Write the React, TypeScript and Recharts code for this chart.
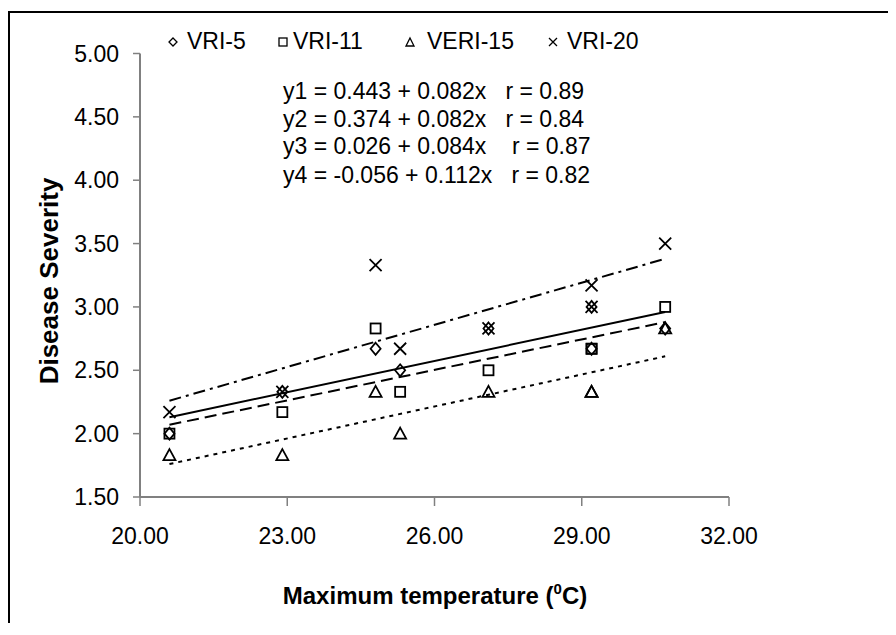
import { ScatterChart, Scatter, XAxis, YAxis, Legend, Customized } from "recharts";

const FONT = "'Liberation Sans', Arial, sans-serif";

// observations (max temperature, disease severity per variety)
const seriesNames = ["VRI-5", "VRI-11", "VERI-15", "VRI-20"];
const maxTemp = [20.6, 22.9, 24.8, 25.3, 27.1, 29.2, 29.2, 30.7];
const vri5 = [2.0, 2.33, 2.67, 2.5, 2.83, 3.0, 2.67, 2.83];
const vri11 = [2.0, 2.17, 2.83, 2.33, 2.5, 2.67, 2.67, 3.0];
const veri15 = [1.83, 1.83, 2.33, 2.0, 2.33, 2.33, 2.33, 2.83];
const vri20 = [2.17, 2.33, 3.33, 2.67, 2.83, 3.17, 3.0, 3.5];

// fitted lines, read at both ends
const fitX = [20.6, 30.7];
const fit1 = [2.13, 2.96];
const fit2 = [2.07, 2.88];
const fit3 = [1.76, 2.61];
const fit4 = [2.26, 3.38];

const equations = [
  "y1 = 0.443 + 0.082x   r = 0.89",
  "y2 = 0.374 + 0.082x   r = 0.84",
  "y3 = 0.026 + 0.084x    r = 0.87",
  "y4 = -0.056 + 0.112x   r = 0.82",
];

const xTicks = [20, 23, 26, 29, 32];
const yTicks = [1.5, 2, 2.5, 3, 3.5, 4, 4.5, 5];

const toPoints = (xs: number[], ys: number[]) => xs.map((x, i) => ({ x, y: ys[i] }));

const Diamond = ({ cx, cy }: any) => (
  <polygon
    points={`${cx},${cy - 6} ${cx + 5},${cy} ${cx},${cy + 6} ${cx - 5},${cy}`}
    fill="none"
    stroke="#000"
    strokeWidth={1.8}
  />
);
const Square = ({ cx, cy }: any) => (
  <rect x={cx - 5} y={cy - 5} width={10} height={10} fill="none" stroke="#000" strokeWidth={1.8} />
);
const Triangle = ({ cx, cy }: any) => (
  <polygon
    points={`${cx},${cy - 6} ${cx + 6},${cy + 5} ${cx - 6},${cy + 5}`}
    fill="none"
    stroke="#000"
    strokeWidth={1.8}
  />
);
const Cross = ({ cx, cy }: any) => (
  <path
    d={`M${cx - 6},${cy - 6}L${cx + 6},${cy + 6}M${cx + 6},${cy - 6}L${cx - 6},${cy + 6}`}
    stroke="#000"
    strokeWidth={1.8}
  />
);
const NoDot = () => <g />;

const legendSyms = [
  <polygon key="d" points="6,2 10,6 6,10 2,6" fill="none" stroke="#000" strokeWidth={1.3} />,
  <rect key="s" x={2} y={2} width={8} height={8} fill="none" stroke="#000" strokeWidth={1.3} />,
  <polygon key="t" points="6,2 10,10 2,10" fill="none" stroke="#000" strokeWidth={1.3} />,
  <path key="x" d="M2,2L10,10M10,2L2,10" stroke="#000" strokeWidth={1.3} />,
];
const legendLeft = [159, 269, 396, 539];
const legendGap = [8, 4, 11, 8];

const LegendRow = () => (
  <div style={{ position: "relative", height: 27, fontFamily: FONT, fontSize: 23, color: "#000" }}>
    {seriesNames.map((n, i) => (
      <div
        key={n}
        style={{ position: "absolute", left: legendLeft[i], top: 0, display: "flex", alignItems: "center", whiteSpace: "nowrap" }}
      >
        <svg width={12} height={12}>{legendSyms[i]}</svg>
        <span style={{ marginLeft: legendGap[i] }}>{n}</span>
      </div>
    ))}
  </div>
);

const eqY = [83, 111, 138, 167];

const Annotations = () => (
  <g fontFamily={FONT} fill="#000">
    {equations.map((e, i) => (
      <text key={e} x={275} y={eqY[i]} fontSize={23} dominantBaseline="central" style={{ whiteSpace: "pre" }}>
        {e}
      </text>
    ))}
    <text
      x={41}
      y={273}
      transform="rotate(-90 41 273)"
      textAnchor="middle"
      dominantBaseline="central"
      fontSize={26}
      fontWeight="bold"
    >
      Disease Severity
    </text>
    <text x={427} y={596} textAnchor="middle" fontSize={24} fontWeight="bold">
      Maximum temperature (
      <tspan dy={-10} fontSize={15}>0</tspan>
      <tspan dy={10}>C)</tspan>
    </text>
  </g>
);

const tickStyle = { fontFamily: FONT, fontSize: 23, fill: "#000" };

export default function App() {
  const markers = [vri5, vri11, veri15, vri20];
  const shapes = [Diamond, Square, Triangle, Cross];
  const fits = [fit1, fit2, fit3, fit4];
  const dashes = ["", "12 6", "4 5", "12 5 3 5"];

  return (
    <div style={{ position: "relative", width: 888, height: 615 }}>
      <div
        style={{
          position: "absolute",
          left: 0,
          top: 3,
          width: 888,
          height: 612,
          borderTop: "2px solid #000",
          borderLeft: "2px solid #000",
          boxSizing: "border-box",
        }}
      />
      {/* legend row is 27px tall and is added to the top offset */}
      <ScatterChart width={888} height={615} margin={{ top: 18.5, right: 167, bottom: 66, left: 52 }}>
        <XAxis
          type="number"
          dataKey="x"
          domain={[20, 32]}
          ticks={xTicks}
          tickFormatter={(v: number) => v.toFixed(2)}
          height={60}
          tickSize={9}
          tickMargin={22}
          tick={tickStyle}
          axisLine={{ stroke: "#808080", strokeWidth: 2 }}
          tickLine={{ stroke: "#808080", strokeWidth: 1.5 }}
          allowDataOverflow
        />
        <YAxis
          type="number"
          dataKey="y"
          domain={[1.5, 5]}
          ticks={yTicks}
          tickFormatter={(v: number) => v.toFixed(2)}
          width={80}
          tickSize={7}
          tickMargin={14}
          tick={tickStyle}
          axisLine={{ stroke: "#808080", strokeWidth: 2 }}
          tickLine={{ stroke: "#808080", strokeWidth: 1.5 }}
          allowDataOverflow
        />
        <Legend verticalAlign="top" wrapperStyle={{ top: 20, left: 0, width: 888 }} content={() => <LegendRow />} />
        {fits.map((f, i) => (
          <Scatter
            key={"fit" + i}
            name={seriesNames[i] + " fit"}
            data={toPoints(fitX, f)}
            shape={NoDot}
            line={{ stroke: "#000", strokeWidth: 2, strokeDasharray: dashes[i] }}
            isAnimationActive={false}
          />
        ))}
        {markers.map((m, i) => (
          <Scatter
            key={seriesNames[i]}
            name={seriesNames[i]}
            data={toPoints(maxTemp, m)}
            shape={shapes[i]}
            isAnimationActive={false}
          />
        ))}
        <Customized component={<Annotations />} />
      </ScatterChart>
    </div>
  );
}
